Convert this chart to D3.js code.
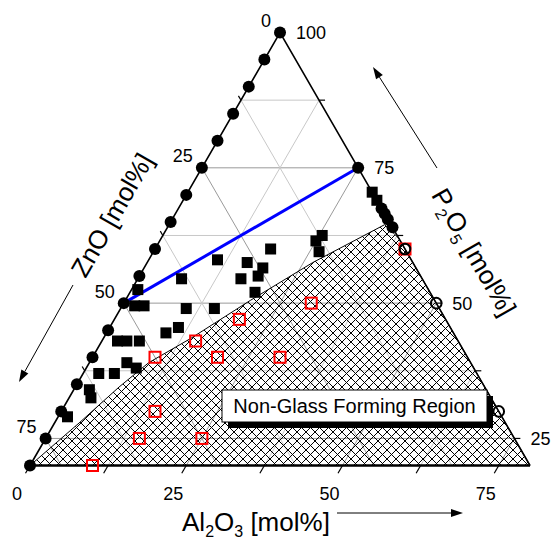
<!DOCTYPE html>
<html>
<head>
<meta charset="utf-8">
<script src="https://cdn.jsdelivr.net/npm/d3@7"></script>
<style>
  body { margin: 0; background: #fff; }
  svg text { font-family: "Liberation Sans", Arial, sans-serif; fill: #000; }
</style>
</head>
<body>
<div id="chart"></div>
<script>
const width = 553;
const height = 540;

// compositions as [Al2O3, P2O5, ZnO] in mol%
const edgeZnO = [0, 5, 10, 15, 20, 25, 30, 35, 40, 45, 50, 55, 60, 65, 70, 75, 80];
const glassSquares = [
  [2, 49.5, 48.5], [3.5, 49.5, 47], [1, 52.5, 46.5], [10.5, 49, 40.5],
  [9.5, 44.5, 46], [11, 45.5, 43.5], [2.5, 43, 54.5], [4, 43, 53],
  [6, 43, 51], [6, 39, 55], [8, 38, 54], [2.5, 37, 60.5], [5, 37, 58],
  [2.5, 34, 63.5], [3.5, 32.5, 64], [1.5, 29, 69.5],
  [25.5, 62.5, 12], [25, 61.5, 13.5], [26.5, 59.5, 14], [18.5, 60, 21.5],
  [11, 58, 31], [16, 57.5, 26.5], [19, 56.5, 24.5], [16.5, 54.5, 29],
  [19, 55, 26], [20, 52, 28], [7, 54.5, 38.5], [15, 49, 36],
  [29.5, 70.5, 0], [31, 69, 0]
];
const glassCircles = [[25, 75, 0], [32.5, 67.5, 0], [33.5, 66.5, 0], [34.5, 65.5, 0], [36, 64, 0]];
const nonGlassSquares = [
  [30, 50, 20], [20, 47, 33], [15, 43, 42], [10, 40, 50], [20, 40, 40],
  [30, 40, 30], [15, 30, 55], [15, 25, 60], [25, 25, 50], [10, 20, 70], [40, 60, 0]
];
const openCircles = [[40, 60, 0], [50, 50, 0], [70, 30, 0]];
const blueLine = [[0, 50, 50], [25, 75, 0]];
const hatchBoundary = [
  [0, 20, 80], [4, 28, 68], [7, 34.5, 58.5], [9.5, 39, 51.5], [14, 43.5, 42.5],
  [20, 50.5, 29.5], [26.5, 57.5, 16], [34.5, 64.5, 1], [38, 62, 0], [80, 20, 0]
];

const gridAZ = [12.5, 25, 37.5, 50, 62.5, 75];
const gridP = [25, 37.5, 50, 62.5, 75, 87.5];
const tickAl = [0, 12.5, 25, 37.5, 50, 62.5, 75];
const tickP = [25, 37.5, 50, 62.5, 75, 87.5, 100];
const tickZn = [0, 12.5, 25, 37.5, 50, 62.5, 75];
const labelAl = [0, 25, 50, 75];
const labelP = [100, 75, 50, 25];
const labelZn = [0, 25, 50, 75];

const svg = d3.select("#chart").append("svg")
  .attr("width", width)
  .attr("height", height);

// ternary projection: x from (Al2O3 - ZnO), y from P2O5
const xs = d3.scaleLinear().domain([-80, 80]).range([30, 530]);
const ys = d3.scaleLinear().domain([20, 100]).range([465.5, 32.5]);
const px = d => xs(d[0] - d[2]);
const py = d => ys(d[1]);
const line = d3.line().x(px).y(py);

// hatch pattern
svg.append("defs").append("pattern")
  .attr("id", "hatch")
  .attr("patternUnits", "userSpaceOnUse")
  .attr("width", 9).attr("height", 9)
  .append("path")
  .attr("d", "M0,0L9,9M9,0L0,9M-1,1L1,-1M8,10L10,8M-1,8L1,10M8,-1L10,1")
  .attr("stroke", "#000")
  .attr("stroke-width", 1.1)
  .attr("shape-rendering", "crispEdges");

// grid
const gridLines = [];
gridP.forEach(p => gridLines.push({ v: p, pts: [[0, p, 100 - p], [100 - p, p, 0]] }));
gridAZ.forEach(a => gridLines.push({ v: a, pts: [[a, 100 - a, 0], [a, 20, 80 - a]] }));
gridAZ.forEach(z => gridLines.push({ v: z, pts: [[0, 100 - z, z], [80 - z, 20, z]] }));
svg.append("g").selectAll("path")
  .data(gridLines)
  .enter().append("path")
  .attr("d", d => line(d.pts))
  .attr("stroke", d => d.v % 25 === 0 ? "#9a9a9a" : "#c8c8c8")
  .attr("stroke-width", 1)
  .attr("fill", "none");

// non-glass forming region
svg.append("path")
  .attr("d", line(hatchBoundary) + "Z")
  .attr("fill", "url(#hatch)")
  .attr("stroke", "#000")
  .attr("stroke-width", 1);

// triangle edges
const apex = [0, 100, 0], cornerL = [0, 20, 80], cornerR = [80, 20, 0];
svg.append("path").attr("d", line([cornerL, apex, cornerR]))
  .attr("fill", "none").attr("stroke", "#000").attr("stroke-width", 1.6);
svg.append("path").attr("d", line([cornerL, cornerR]))
  .attr("fill", "none").attr("stroke", "#000").attr("stroke-width", 2.4);

// ticks
const ticks = svg.append("g").attr("stroke", "#000").attr("stroke-width", 1.2);
tickAl.forEach(a => {
  const p = [a, 20, 80 - a];
  ticks.append("line").attr("x1", px(p)).attr("y1", py(p))
    .attr("x2", px(p) - 4.5).attr("y2", py(p) + 7.8);
});
tickP.forEach(v => {
  const p = [100 - v, v, 0];
  ticks.append("line").attr("x1", px(p)).attr("y1", py(p))
    .attr("x2", px(p) + 6).attr("y2", py(p));
});
tickZn.forEach(z => {
  const p = [0, 100 - z, z];
  ticks.append("line").attr("x1", px(p)).attr("y1", py(p))
    .attr("x2", px(p) - 2.5).attr("y2", py(p) - 4.3);
});

// tick labels
const labels = svg.append("g").attr("font-size", 18);
labelAl.forEach(a => {
  const p = [a, 20, 80 - a];
  labels.append("text").attr("x", px(p) - 13).attr("y", 499.5)
    .attr("text-anchor", "middle").text(a);
});
labelP.forEach(v => {
  const p = [100 - v, v, 0];
  labels.append("text").attr("x", px(p) + 16).attr("y", py(p) + 6.5)
    .attr("text-anchor", "start").text(v);
});
labelZn.forEach(z => {
  const p = [0, 100 - z, z];
  labels.append("text").attr("x", px(p) - 9).attr("y", py(p) - 12 + 6.5)
    .attr("text-anchor", "end").text(z);
});

// tie line
svg.append("path").attr("d", line(blueLine))
  .attr("stroke", "#0000ff").attr("stroke-width", 3).attr("fill", "none");

// glass forming samples
svg.append("g").selectAll("rect")
  .data(glassSquares)
  .enter().append("rect")
  .attr("x", d => px(d) - 5.5).attr("y", d => py(d) - 5.5)
  .attr("width", 11).attr("height", 11)
  .attr("fill", "#000");

// non-glass samples
svg.append("g").selectAll("rect")
  .data(nonGlassSquares)
  .enter().append("rect")
  .attr("x", d => px(d) - 5.5).attr("y", d => py(d) - 5.5)
  .attr("width", 11).attr("height", 11)
  .attr("fill", "none").attr("stroke", "#ff0000").attr("stroke-width", 2);

// edge samples (Al2O3 = 0)
svg.append("g").selectAll("circle")
  .data(edgeZnO.map(z => [0, 100 - z, z]).concat(glassCircles))
  .enter().append("circle")
  .attr("cx", px).attr("cy", py).attr("r", 6)
  .attr("fill", "#000");

svg.append("g").selectAll("circle")
  .data(openCircles)
  .enter().append("circle")
  .attr("cx", px).attr("cy", py).attr("r", 5.3)
  .attr("fill", "none").attr("stroke", "#000").attr("stroke-width", 2);

// region label box
svg.append("rect").attr("x", 228).attr("y", 396).attr("width", 265).attr("height", 32).attr("fill", "#000");
svg.append("rect").attr("x", 222).attr("y", 390).attr("width", 265).attr("height", 32)
  .attr("fill", "#fff").attr("stroke", "#000").attr("stroke-width", 1);
svg.append("text").attr("x", 354.5).attr("y", 413).attr("text-anchor", "middle")
  .attr("font-size", 20).text("Non-Glass Forming Region");

// axis titles
const tBottom = svg.append("text").attr("x", 182).attr("y", 531).attr("font-size", 26);
tBottom.append("tspan").text("Al");
tBottom.append("tspan").attr("font-size", 16).attr("dy", 6).text("2");
tBottom.append("tspan").attr("dy", -6).text("O");
tBottom.append("tspan").attr("font-size", 16).attr("dy", 6).text("3");
tBottom.append("tspan").attr("dy", -6).text(" [mol%]");

svg.append("text")
  .attr("transform", "translate(112,215) rotate(-60)")
  .attr("text-anchor", "middle").attr("y", 9)
  .attr("font-size", 26).text("ZnO [mol%]");

const tRight = svg.append("text")
  .attr("transform", "translate(474,252) rotate(60)")
  .attr("text-anchor", "middle").attr("y", 9)
  .attr("font-size", 26);
tRight.append("tspan").text("P");
tRight.append("tspan").attr("font-size", 16).attr("dy", 6).text("2");
tRight.append("tspan").attr("dy", -6).text("O");
tRight.append("tspan").attr("font-size", 16).attr("dy", 6).text("5");
tRight.append("tspan").attr("dy", -6).text(" [mol%]");

// direction arrows
function arrow(x1, y1, x2, y2) {
  const a = Math.atan2(y2 - y1, x2 - x1);
  const len = 12, hw = 4;
  const bx = x2 - len * Math.cos(a), by = y2 - len * Math.sin(a);
  svg.append("line").attr("x1", x1).attr("y1", y1).attr("x2", bx).attr("y2", by)
    .attr("stroke", "#000").attr("stroke-width", 1);
  svg.append("path")
    .attr("d", `M${x2},${y2}L${bx - hw * Math.sin(a)},${by + hw * Math.cos(a)}L${bx + hw * Math.sin(a)},${by - hw * Math.cos(a)}Z`)
    .attr("fill", "#000");
}
arrow(73, 285, 19, 382);
arrow(437, 168, 373, 67);
arrow(337, 513, 463, 513);
</script>
</body>
</html>
